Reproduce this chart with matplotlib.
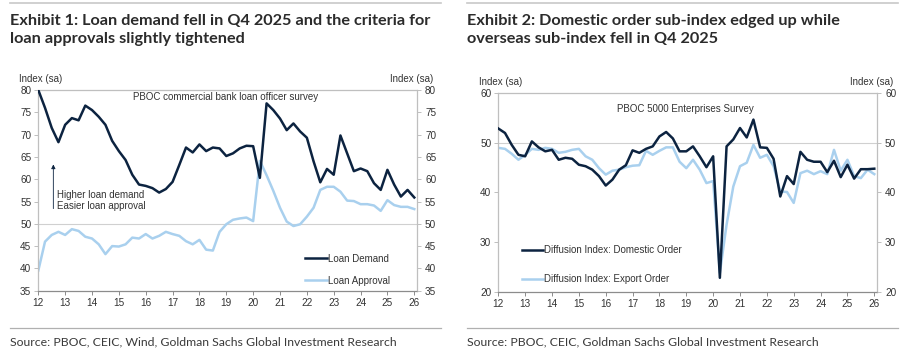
import matplotlib
matplotlib.use("Agg")
import matplotlib.pyplot as plt
from matplotlib.lines import Line2D

# quarterly, Dec-2011 .. Dec-2025 (quarter-end months)
years = [2011] + [y for y in range(2012, 2026) for _ in range(4)]
months = [12] + [3, 6, 9, 12] * 14

loan_demand = [80.0, 76.0, 71.5, 68.3, 72.2, 73.7, 73.2, 76.5, 75.5, 74.0,
               72.2, 68.6, 66.3, 64.3, 61.0, 58.8, 58.5, 58.0, 57.0, 57.8,
               59.4, 63.2, 67.1, 66.0, 67.8, 66.3, 67.1, 66.9, 65.2, 65.8,
               66.9, 67.5, 67.4, 60.3, 77.0, 75.5, 73.6, 71.0, 72.5, 70.7,
               69.3, 64.0, 59.3, 62.3, 61.0, 69.8, 65.8, 61.8, 62.4, 61.8,
               59.1, 57.6, 62.1, 58.8, 56.1, 57.6, 55.9]
loan_approval = [39.5, 46.0, 47.5, 48.2, 47.5, 48.8, 48.4, 47.1, 46.7, 45.4,
                 43.2, 45.0, 44.9, 45.4, 46.9, 46.7, 47.7, 46.7, 47.3, 48.2,
                 47.7, 47.3, 46.1, 45.4, 46.4, 44.2, 44.0, 48.2, 49.9, 50.9,
                 51.2, 51.4, 50.6, 64.1, 60.9, 57.4, 53.6, 50.5, 49.5, 49.9,
                 51.6, 53.6, 57.6, 58.3, 58.3, 57.2, 55.2, 55.1, 54.4, 54.4,
                 54.1, 52.9, 55.3, 54.2, 53.8, 53.8, 53.3]

domestic_order = [52.9, 52.0, 49.6, 47.6, 47.3, 50.3, 49.1, 48.3, 48.6, 46.6,
                  47.0, 46.8, 45.6, 45.3, 44.6, 43.3, 41.4, 42.6, 44.6, 45.5,
                  48.5, 48.0, 48.8, 49.3, 51.3, 52.2, 50.9, 48.3, 48.3, 49.3,
                  47.3, 45.1, 47.3, 22.8, 49.3, 50.7, 53.0, 51.1, 54.7, 49.1,
                  49.0, 46.8, 39.2, 43.3, 41.7, 48.2, 46.6, 46.2, 46.2, 44.1,
                  46.4, 43.1, 45.6, 42.8, 44.7, 44.7, 44.8]
export_order = [49.0, 48.8, 47.8, 46.6, 47.6, 48.8, 48.6, 49.0, 48.8, 48.0,
                48.2, 48.6, 48.8, 47.3, 46.6, 44.9, 43.6, 44.4, 44.6, 45.1,
                45.4, 45.5, 48.4, 47.6, 48.4, 49.1, 49.1, 46.2, 44.9, 46.6,
                44.6, 41.9, 42.3, 23.8, 33.5, 41.2, 45.3, 46.0, 49.6, 47.0,
                47.6, 45.3, 40.2, 40.1, 37.9, 43.9, 44.4, 43.7, 44.3, 43.7,
                48.6, 44.4, 46.6, 43.3, 42.9, 44.6, 43.7]

year_ticks = list(range(12, 27))

NAVY = "#0c2340"
LIGHT = "#a9d0ee"
GREY = "#bfbfbf"
TXT = "#333333"

x = [y - 2000 + m / 12 for y, m in zip(years, months)]

plt.rcParams["font.family"] = ["Liberation Sans", "DejaVu Sans"]
plt.rcParams["font.size"] = 7

fig = plt.figure(figsize=(9.13, 3.58), dpi=100)
W, H = 913, 358


def px_axes(x0, y0, x1, y1):
    return fig.add_axes([x0 / W, 1 - y1 / H, (x1 - x0) / W, (y1 - y0) / H])


def style(ax, ylo, yhi, step):
    ax.set_xlim(12, 26.09)
    ax.set_ylim(ylo, yhi)
    ax.set_xticks(year_ticks)
    ax.set_yticks(range(ylo, yhi + 1, step))
    for s in ax.spines.values():
        s.set_color(GREY)
        s.set_linewidth(0.9)
    ax.spines["bottom"].set_color("#8c8c8c")
    ax.tick_params(axis="both", colors=TXT, labelsize=7.2, length=3, width=0.7,
                   direction="out", pad=2)
    ax.tick_params(axis="x", colors="#8c8c8c", labelcolor=TXT)
    ax.tick_params(axis="y", colors=GREY, labelcolor=TXT)
    ax.axhline(50, color="#d0d0d0", lw=0.8, zorder=0)
    twin = ax.twinx()
    twin.set_ylim(ylo, yhi)
    twin.set_yticks(range(ylo, yhi + 1, step))
    twin.tick_params(axis="y", colors=GREY, labelcolor=TXT, labelsize=7.2,
                     length=3, width=0.7, pad=3)
    for s in twin.spines.values():
        s.set_visible(False)
    ax.text(-0.05, 1.03, "Index (sa)", transform=ax.transAxes, ha="left",
            va="bottom", color=TXT, fontsize=7)
    ax.text(1.045, 1.03, "Index (sa)", transform=ax.transAxes, ha="right",
            va="bottom", color=TXT, fontsize=7)
    return twin


title_font = ["Lato", "DejaVu Sans"]

for x0 in (10, 467):
    fig.add_artist(Line2D([x0 / W, (x0 + 431) / W], [1 - 3 / H, 1 - 3 / H],
                          color="#c8c8c8", lw=1.2))
    fig.add_artist(Line2D([x0 / W, (x0 + 431) / W], [1 - 328 / H, 1 - 328 / H],
                          color="#b0b0b0", lw=0.9))

fig.text(10 / W, 1 - 14 / H,
         "Exhibit 1: Loan demand fell in Q4 2025 and the criteria for\nloan approvals slightly tightened",
         ha="left", va="top", fontsize=11.7, fontweight="bold", color="#2b2b2b",
         family=title_font, linespacing=1.4)
fig.text(467 / W, 1 - 14 / H,
         "Exhibit 2: Domestic order sub-index edged up while\noverseas sub-index fell in Q4 2025",
         ha="left", va="top", fontsize=11.7, fontweight="bold", color="#2b2b2b",
         family=title_font, linespacing=1.4)
fig.text(10 / W, 1 - 342 / H,
         "Source: PBOC, CEIC, Wind, Goldman Sachs Global Investment Research",
         ha="left", va="center", fontsize=8.8, color="#3a3a3a", family=title_font)
fig.text(467 / W, 1 - 342 / H,
         "Source: PBOC, CEIC, Goldman Sachs Global Investment Research",
         ha="left", va="center", fontsize=8.8, color="#3a3a3a", family=title_font)

# --- Exhibit 1 ---
ax1 = px_axes(38.3, 90, 416.7, 290.7)
style(ax1, 35, 80, 5)
ax1.plot(x, loan_demand, color=NAVY, lw=1.8, label="Loan Demand", zorder=3)
ax1.plot(x, loan_approval, color=LIGHT, lw=1.8, label="Loan Approval", zorder=2)
ax1.text(0.495, 0.965, "PBOC commercial bank loan officer survey",
         transform=ax1.transAxes, ha="center", va="center", color=TXT, fontsize=7)
ax1.annotate("", xy=(12.56, 63.3), xytext=(12.56, 53.4),
             arrowprops=dict(arrowstyle="-|>", color=NAVY, lw=0.6,
                             mutation_scale=6, shrinkA=0, shrinkB=0))
ax1.text(12.68, 56.5, "Higher loan demand", ha="left", va="center",
         color=TXT, fontsize=7)
ax1.text(12.68, 54.1, "Easier loan approval", ha="left", va="center",
         color=TXT, fontsize=7)
ax1.legend(loc="upper left", bbox_to_anchor=(0.705, 0.185), frameon=False,
           handlelength=2.3, handletextpad=0.05, labelspacing=1.25,
           borderpad=0, borderaxespad=0, fontsize=7, labelcolor=TXT)

# --- Exhibit 2 ---
ax2 = px_axes(498.3, 93.3, 876.7, 291.7)
style(ax2, 20, 60, 10)
ax2.plot(x, domestic_order, color=NAVY, lw=1.8,
         label="Diffusion Index: Domestic Order", zorder=3)
ax2.plot(x, export_order, color=LIGHT, lw=1.8,
         label="Diffusion Index: Export Order", zorder=2)
ax2.text(0.495, 0.92, "PBOC 5000 Enterprises Survey", transform=ax2.transAxes,
         ha="center", va="center", color=TXT, fontsize=7)
ax2.legend(loc="upper left", bbox_to_anchor=(0.062, 0.235), frameon=False,
           handlelength=2.2, handletextpad=0.05, labelspacing=1.95,
           borderpad=0, borderaxespad=0, fontsize=7, labelcolor=TXT)

fig.savefig("out.png", dpi=100)
